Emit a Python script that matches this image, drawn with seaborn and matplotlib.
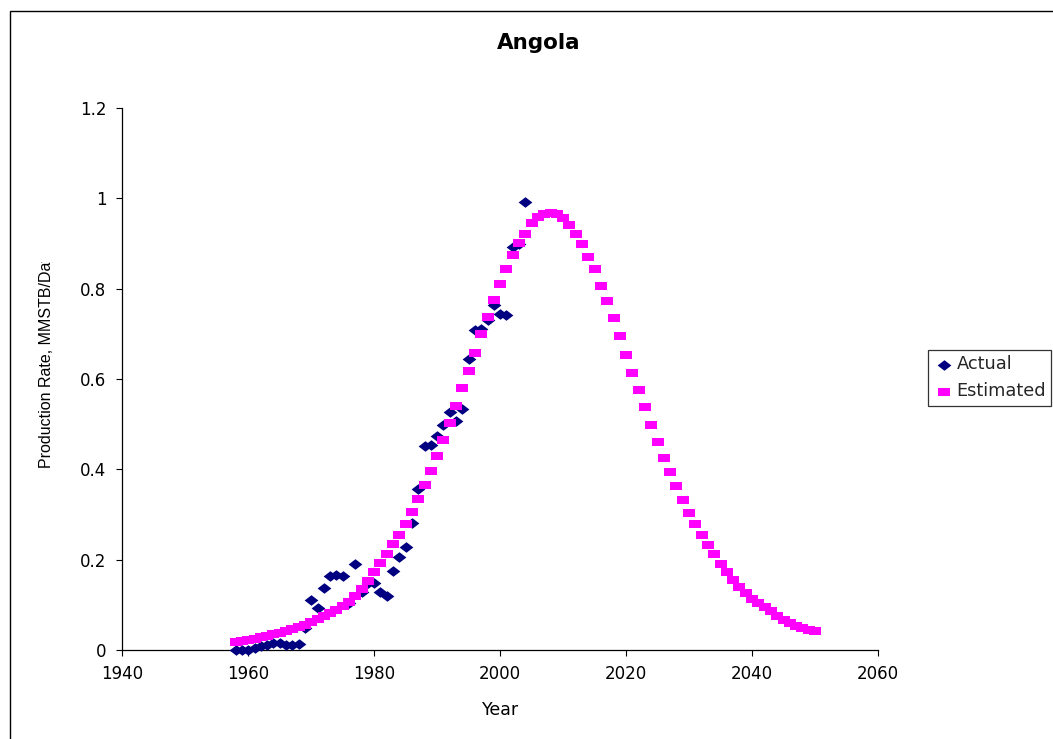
import numpy as np
import pandas as pd
import matplotlib
matplotlib.use("Agg")
import matplotlib.pyplot as plt
from matplotlib.path import Path
from matplotlib.patches import Rectangle
from matplotlib.ticker import FixedLocator, FixedFormatter
import matplotlib.transforms as mtransforms
import seaborn as sns

# ---- data -------------------------------------------------------------
actual_years = np.arange(1958, 2005)
actual_rate = [
    0.000, 0.000, 0.001, 0.004, 0.008, 0.012, 0.016, 0.015, 0.012, 0.010,
    0.013, 0.048, 0.110, 0.092, 0.138, 0.163, 0.167, 0.163, 0.105, 0.190,
    0.128, 0.148, 0.148, 0.128, 0.120, 0.176, 0.207, 0.228, 0.282, 0.357,
    0.452, 0.453, 0.474, 0.499, 0.526, 0.506, 0.534, 0.645, 0.709, 0.711,
    0.731, 0.764, 0.745, 0.741, 0.893, 0.900, 0.992,
]

estimated_years = np.arange(1958, 2051)
estimated_rate = [
    0.018, 0.020, 0.022, 0.025, 0.028, 0.031, 0.035, 0.038, 0.042, 0.046,
    0.051, 0.056, 0.062, 0.068, 0.075, 0.082, 0.089, 0.097, 0.107, 0.120,
    0.135, 0.153, 0.172, 0.192, 0.213, 0.235, 0.255, 0.279, 0.306, 0.334,
    0.366, 0.397, 0.430, 0.465, 0.503, 0.540, 0.580, 0.618, 0.657, 0.700,
    0.737, 0.776, 0.810, 0.843, 0.874, 0.902, 0.922, 0.945, 0.959, 0.965,
    0.967, 0.965, 0.956, 0.941, 0.922, 0.899, 0.871, 0.843, 0.807, 0.772,
    0.734, 0.695, 0.653, 0.614, 0.576, 0.537, 0.499, 0.460, 0.425, 0.394,
    0.362, 0.331, 0.303, 0.278, 0.254, 0.233, 0.212, 0.191, 0.173, 0.155,
    0.140, 0.127, 0.114, 0.103, 0.096, 0.086, 0.075, 0.066, 0.059, 0.053,
    0.048, 0.044, 0.041,
]

x_ticks = [1940, 1960, 1980, 2000, 2020, 2040, 2060]
y_ticks = [0, 0.2, 0.4, 0.6, 0.8, 1.0, 1.2]
y_tick_labels = ["0", "0.2", "0.4", "0.6", "0.8", "1", "1.2"]

title_text = "Angola"
x_label = "Year"
y_label = "Production Rate, MMSTB/Day"
series_names = ["Actual", "Estimated"]

# ---- style ------------------------------------------------------------
sns.set_style("white")
plt.rcParams["font.family"] = ["DejaVu Sans"]

NAVY = "#000080"
MAGENTA = "#FF00FF"

# slightly wide markers: a flat diamond and a flat square
diamond = Path([(-0.5, 0.0), (0.0, 0.385), (0.5, 0.0), (0.0, -0.385), (-0.5, 0.0)],
               [Path.MOVETO, Path.LINETO, Path.LINETO, Path.LINETO, Path.CLOSEPOLY])
flat_square = Path([(-0.5, -0.37), (0.5, -0.37), (0.5, 0.37), (-0.5, 0.37), (-0.5, -0.37)],
                   [Path.MOVETO, Path.LINETO, Path.LINETO, Path.LINETO, Path.CLOSEPOLY])

W, H = 1053, 739
fig = plt.figure(figsize=(W / 100, H / 100), dpi=100)
fig.patch.set_facecolor("white")

# plot area in pixel units
left_px, right_px, bottom_px, top_px = 122.3, 878.0, 650.0, 108.0
ax = fig.add_axes([left_px / W, 1 - bottom_px / H,
                   (right_px - left_px) / W, (bottom_px - top_px) / H])

df_actual = pd.DataFrame({"Year": actual_years, "Rate": actual_rate})
df_est = pd.DataFrame({"Year": estimated_years, "Rate": estimated_rate})

sns.scatterplot(data=df_actual, x="Year", y="Rate", ax=ax, marker=diamond,
                s=98, color=NAVY, linewidth=0, clip_on=False, zorder=3,
                label=series_names[0])
sns.scatterplot(data=df_est, x="Year", y="Rate", ax=ax, marker=flat_square,
                s=70, color=MAGENTA, linewidth=0, clip_on=False, zorder=4,
                label=series_names[1])

ax.set_xlim(x_ticks[0], x_ticks[-1])
ax.set_ylim(y_ticks[0], y_ticks[-1])
ax.xaxis.set_major_locator(FixedLocator(x_ticks))
ax.yaxis.set_major_locator(FixedLocator(y_ticks))
ax.yaxis.set_major_formatter(FixedFormatter(y_tick_labels))

sns.despine(ax=ax)
for side in ("left", "bottom"):
    ax.spines[side].set_color("black")
    ax.spines[side].set_linewidth(0.9)
ax.tick_params(axis="both", direction="out", length=4.5, width=0.8,
               color="black", labelsize=12, labelcolor="black",
               left=True, bottom=True)
ax.tick_params(axis="y", pad=7)
ax.tick_params(axis="x", pad=6)
ax.grid(False)

ax.set_xlabel(x_label, fontsize=12.5, labelpad=13, color="black")
ax.set_ylabel("")

# rotated axis title, cut off at the top like the text box it sits in
ylab = fig.text(47 / W, 1 - 468 / H, y_label, rotation=90, ha="center",
                va="bottom", fontsize=11.5, family=["Liberation Sans", "DejaVu Sans"],
                color="black")
clip = mtransforms.Bbox.from_extents(0, 0, 100, H - 262)
ylab.set_clip_box(mtransforms.TransformedBbox(clip, mtransforms.IdentityTransform()))
ylab.set_clip_on(True)

fig.text(539 / W, 1 - 43 / H, title_text, ha="center", va="center",
         fontsize=15.5, fontweight="bold", color="black")

# legend box on the right
handles, labels = ax.get_legend_handles_labels()
if ax.legend_ is not None:
    ax.legend_.remove()
leg = fig.legend(handles, labels, loc="upper left",
                 bbox_to_anchor=(928 / W, 1 - 350 / H),
                 frameon=True, fancybox=False, shadow=False,
                 fontsize=12.8, handletextpad=0.1, handlelength=1.2,
                 borderpad=0.3, labelspacing=0.5, borderaxespad=0,
                 markerscale=1.0)
leg.get_frame().set_edgecolor("black")
leg.get_frame().set_linewidth(0.9)
leg.get_frame().set_facecolor("white")

# chart-area border, running off the right and bottom edges
fig.patches.append(Rectangle((9.5 / W, -0.2), 1.5, 1.2 - 10.5 / H,
                             transform=fig.transFigure, fill=False,
                             edgecolor="black", linewidth=1.0))

fig.savefig("out.png", dpi=100, facecolor="white")
